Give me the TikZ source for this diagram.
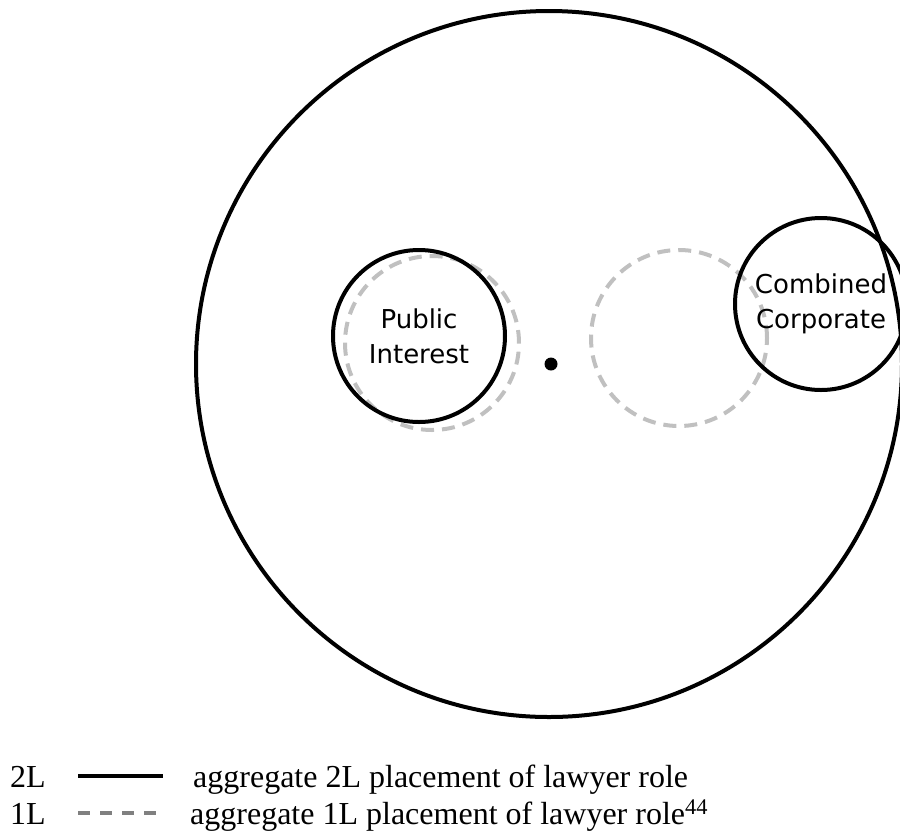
\documentclass[tikz,border=0pt]{standalone}
\usepackage{fontspec}
\setmainfont{Liberation Serif}
\newfontfamily\labelfont{DejaVu Sans}
\definecolor{zonegray}{HTML}{C0C0C0}
\definecolor{keygray}{HTML}{808080}
\begin{document}
\begin{tikzpicture}[x=1pt,y=-1pt,
  ring/.style={circle, draw=black, line width=4pt, inner sep=0pt,
    minimum size=#1, align=center,
    font=\labelfont\fontsize{26}{35}\selectfont},
  zone/.style={circle, draw=zonegray, line width=4pt,
    dash pattern=on 13pt off 8pt, inner sep=0pt, minimum size=#1},
  keytext/.style={anchor=base west, inner sep=0pt,
    font=\fontsize{32}{37}\selectfont},
  keysolid/.style={draw=black, line width=4pt},
  keydash/.style={draw=keygray, line width=4pt, dash pattern=on 12pt off 10pt}
]
\useasboundingbox (0,0) rectangle (900,831);
\clip (0,0) rectangle (900,831);

% outer field of lawyer roles
\node[ring=706pt] (field) at (549,364) {};
\node[circle, fill=black, inner sep=0pt, minimum size=13pt] (centre) at (551,364) {};

% 1L placements
\node[zone=174pt] (pi1) at (432,343) {};
\node[zone=176pt] (cc1) at (679,338) {};

% 2L placements
\node[ring=172pt] (pi2) at (419,336) {Public\\Interest};
\node[ring=172pt] (cc2) at (821,304) {Combined\\Corporate};

% key
\node[keytext] (k2) at (10,787) {2L};
\coordinate (s2a) at (78,776);
\coordinate (s2b) at (163,776);
\draw[keysolid] (s2a) -- (s2b);
\node[keytext] (t2) at (193,787) {aggregate 2L placement of lawyer role};

\node[keytext] (k1) at (10,824) {1L};
\coordinate (s1a) at (78,813);
\coordinate (s1b) at (157,813);
\draw[keydash] (s1a) -- (s1b);
\node[keytext] (t1) at (190,824) {aggregate 1L placement of lawyer role\textsuperscript{44}};
\end{tikzpicture}
\end{document}
